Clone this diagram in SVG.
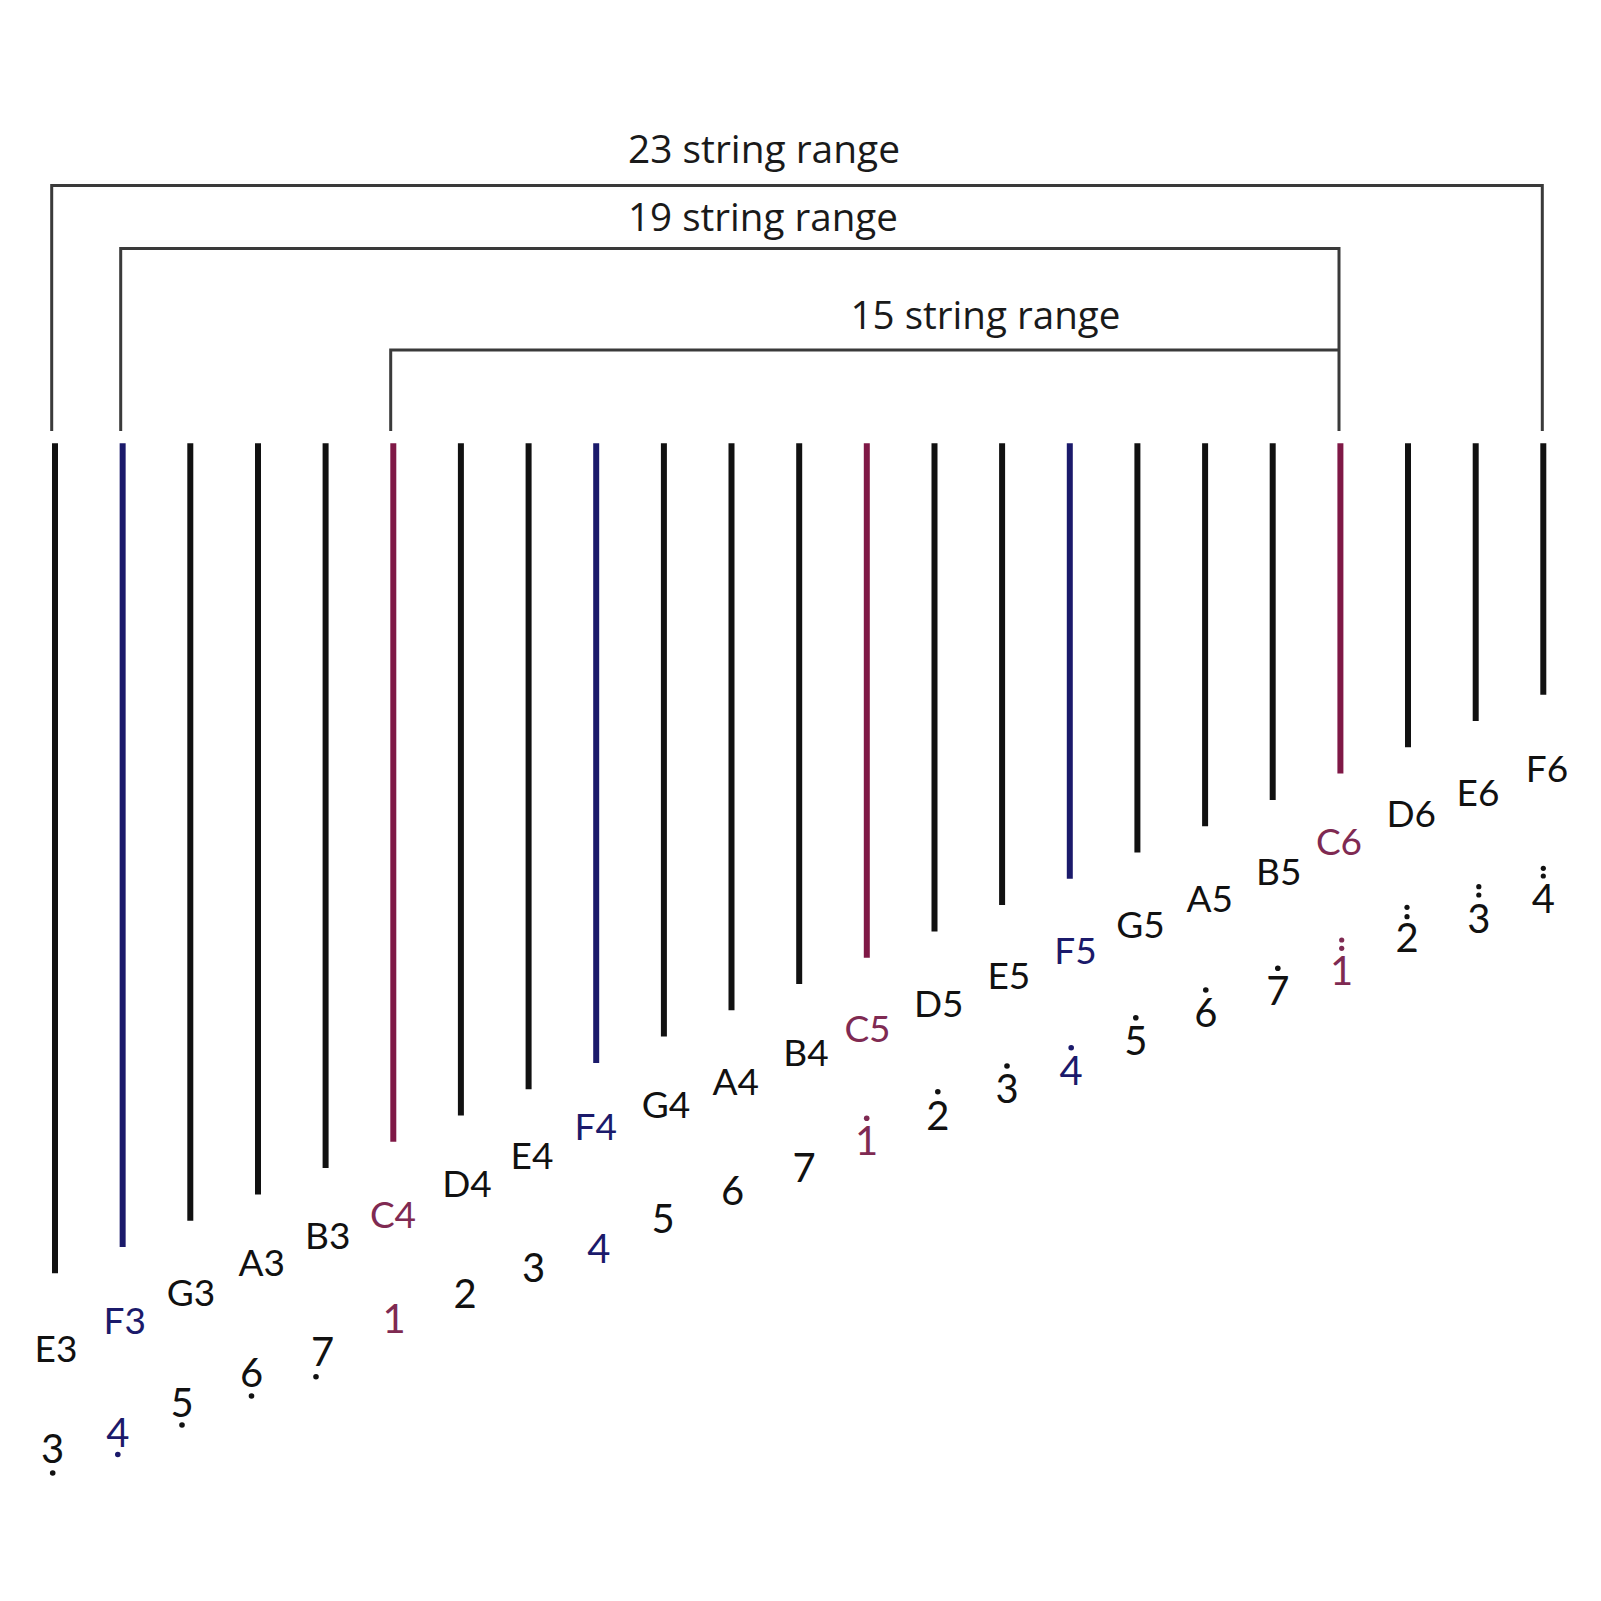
<svg xmlns="http://www.w3.org/2000/svg" width="1601" height="1601" viewBox="0 0 1601 1601">
<style>
.bk{fill:none;stroke:#3a3a3a;stroke-width:3}
.s{stroke-width:6;stroke-linecap:butt}
.k{stroke:#111}
.b{stroke:#1b1a6b}
.r{stroke:#7f1846}
.rt{font-family:"Open Sans","Noto Sans",sans-serif;font-size:39px;fill:#1a1a1a}
.n{font-family:Lato,"Noto Sans",sans-serif;font-size:37px;text-anchor:middle;fill:#111}
.d{font-family:Lato,"Noto Sans",sans-serif;font-size:40px;text-anchor:middle;fill:#111}
.tb{fill:#1b1a6b}
.tr{fill:#7f2a52}
.dot{fill:#111}
</style>
<rect width="1601" height="1601" fill="#fff"/>
<g id="ranges">
<g id="range23"><path class="bk" d="M51.7,431 V185.5 H1542.3 V431"/><text class="rt" x="628" y="163" textLength="272" lengthAdjust="spacingAndGlyphs">23 string range</text></g>
<g id="range19"><path class="bk" d="M120.7,431 V248.5 H1339 V431"/><text class="rt" x="628" y="230.5" textLength="270" lengthAdjust="spacingAndGlyphs">19 string range</text></g>
<g id="range15"><path class="bk" d="M390.7,431 V350 H1339"/><text class="rt" x="850.5" y="328.5" textLength="270" lengthAdjust="spacingAndGlyphs">15 string range</text></g>
</g>
<g id="strings">
<line id="s-E3" class="s k" x1="55" y1="443.3" x2="55" y2="1273.3"/>
<line id="s-F3" class="s b" x1="122.65" y1="443.3" x2="122.65" y2="1247"/>
<line id="s-G3" class="s k" x1="190.3" y1="443.3" x2="190.3" y2="1220.7"/>
<line id="s-A3" class="s k" x1="258" y1="443.3" x2="258" y2="1194.4"/>
<line id="s-B3" class="s k" x1="325.6" y1="443.3" x2="325.6" y2="1168.1"/>
<line id="s-C4" class="s r" x1="393.3" y1="443.3" x2="393.3" y2="1141.8"/>
<line id="s-D4" class="s k" x1="460.9" y1="443.3" x2="460.9" y2="1115.5"/>
<line id="s-E4" class="s k" x1="528.6" y1="443.3" x2="528.6" y2="1089.2"/>
<line id="s-F4" class="s b" x1="596.2" y1="443.3" x2="596.2" y2="1062.9"/>
<line id="s-G4" class="s k" x1="663.9" y1="443.3" x2="663.9" y2="1036.6"/>
<line id="s-A4" class="s k" x1="731.5" y1="443.3" x2="731.5" y2="1010.3"/>
<line id="s-B4" class="s k" x1="799.2" y1="443.3" x2="799.2" y2="984"/>
<line id="s-C5" class="s r" x1="866.8" y1="443.3" x2="866.8" y2="957.7"/>
<line id="s-D5" class="s k" x1="934.5" y1="443.3" x2="934.5" y2="931.4"/>
<line id="s-E5" class="s k" x1="1002.1" y1="443.3" x2="1002.1" y2="905.1"/>
<line id="s-F5" class="s b" x1="1069.8" y1="443.3" x2="1069.8" y2="878.8"/>
<line id="s-G5" class="s k" x1="1137.4" y1="443.3" x2="1137.4" y2="852.5"/>
<line id="s-A5" class="s k" x1="1205.1" y1="443.3" x2="1205.1" y2="826.2"/>
<line id="s-B5" class="s k" x1="1272.7" y1="443.3" x2="1272.7" y2="799.9"/>
<line id="s-C6" class="s r" x1="1340.4" y1="443.3" x2="1340.4" y2="773.6"/>
<line id="s-D6" class="s k" x1="1408" y1="443.3" x2="1408" y2="747.3"/>
<line id="s-E6" class="s k" x1="1475.7" y1="443.3" x2="1475.7" y2="721"/>
<line id="s-F6" class="s k" x1="1543.3" y1="443.3" x2="1543.3" y2="694.7"/>
</g>
<g id="notes">
<text class="n" x="56" y="1361.7">E3</text>
<text class="n tb" x="124.7" y="1334">F3</text>
<text class="n" x="191" y="1306">G3</text>
<text class="n" x="261.7" y="1275.7">A3</text>
<text class="n" x="327.7" y="1249.3">B3</text>
<text class="n tr" x="393" y="1228.3">C4</text>
<text class="n" x="467" y="1196.7">D4</text>
<text class="n" x="532" y="1169">E4</text>
<text class="n tb" x="595.7" y="1140">F4</text>
<text class="n" x="666" y="1118.3">G4</text>
<text class="n" x="735.7" y="1095">A4</text>
<text class="n" x="806" y="1065.7">B4</text>
<text class="n tr" x="867.5" y="1042.3">C5</text>
<text class="n" x="938.7" y="1016.7">D5</text>
<text class="n" x="1008.8" y="989.3">E5</text>
<text class="n tb" x="1075.5" y="964">F5</text>
<text class="n" x="1140.5" y="938.3">G5</text>
<text class="n" x="1209.7" y="911.7">A5</text>
<text class="n" x="1278.7" y="885">B5</text>
<text class="n tr" x="1339" y="855">C6</text>
<text class="n" x="1411.3" y="826.7">D6</text>
<text class="n" x="1478" y="806">E6</text>
<text class="n" x="1547" y="781.7">F6</text>
</g>
<g id="numbers">
<g id="j-3low"><text class="d" x="52.7" y="1462.7">3</text><circle class="dot" cx="52.7" cy="1473" r="2.8"/></g>
<g id="j-4low"><text class="d tb" x="117.8" y="1446.7">4</text><circle cx="117.8" cy="1454.5" r="2.8" fill="#1b1a6b"/></g>
<g id="j-5low"><text class="d" x="182" y="1416.7">5</text><circle class="dot" cx="182" cy="1425" r="2.8"/></g>
<g id="j-6low"><text class="d" x="251.5" y="1386.7">6</text><circle class="dot" cx="251.5" cy="1396" r="2.8"/></g>
<g id="j-7low"><text class="d" x="322.5" y="1366">7</text><circle class="dot" cx="316" cy="1376.7" r="2.8"/></g>
<text id="j-1" class="d tr" x="394" y="1333.3">1</text>
<text id="j-2" class="d" x="465" y="1308.3">2</text>
<text id="j-3" class="d" x="533.7" y="1281.7">3</text>
<text id="j-4" class="d tb" x="598.8" y="1263.3">4</text>
<text id="j-5" class="d" x="663" y="1233.3">5</text>
<text id="j-6" class="d" x="732.5" y="1205">6</text>
<text id="j-7" class="d" x="804" y="1182">7</text>
<g id="j-1high"><text class="d tr" x="866.7" y="1155">1</text><circle cx="866.7" cy="1118.3" r="2.8" fill="#7f2a52"/></g>
<g id="j-2high"><text class="d" x="937.8" y="1130">2</text><circle class="dot" cx="937.8" cy="1091.7" r="2.8"/></g>
<g id="j-3high"><text class="d" x="1007" y="1103.3">3</text><circle class="dot" cx="1007" cy="1066" r="2.8"/></g>
<g id="j-4high"><text class="d tb" x="1071.2" y="1085">4</text><circle cx="1071.2" cy="1047.7" r="2.8" fill="#1b1a6b"/></g>
<g id="j-5high"><text class="d" x="1135.8" y="1055">5</text><circle class="dot" cx="1135.8" cy="1017.7" r="2.8"/></g>
<g id="j-6high"><text class="d" x="1205.8" y="1027">6</text><circle class="dot" cx="1205.8" cy="990" r="2.8"/></g>
<g id="j-7high"><text class="d" x="1277.8" y="1005">7</text><circle class="dot" cx="1277.8" cy="968.3" r="2.8"/></g>
<g id="j-1high2"><text class="d tr" x="1341.7" y="985">1</text><circle cx="1341.7" cy="940" r="2.6" fill="#7f2a52"/><circle cx="1341.7" cy="948.3" r="2.6" fill="#7f2a52"/></g>
<g id="j-2high2"><text class="d" x="1407" y="951.7">2</text><circle class="dot" cx="1407" cy="907.3" r="2.6"/><circle class="dot" cx="1407" cy="916.7" r="2.6"/></g>
<g id="j-3high2"><text class="d" x="1478.8" y="932.7">3</text><circle class="dot" cx="1478.8" cy="886.7" r="2.6"/><circle class="dot" cx="1478.8" cy="895" r="2.6"/></g>
<g id="j-4high2"><text class="d" x="1543.3" y="913.3">4</text><circle class="dot" cx="1543.3" cy="868.3" r="2.6"/><circle class="dot" cx="1543.3" cy="876" r="2.6"/></g>
</g>
</svg>
